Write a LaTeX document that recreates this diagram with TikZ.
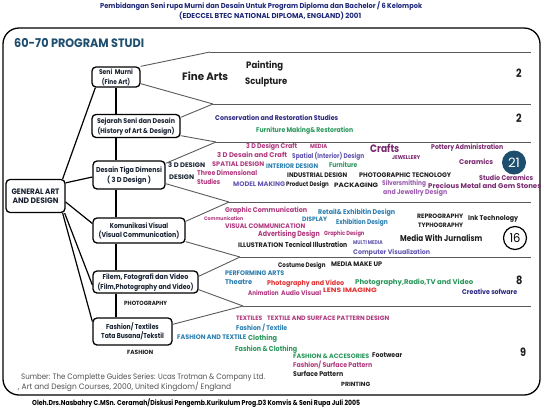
\documentclass[tikz,border=0pt]{standalone}
\usepackage{fontspec}
\setmainfont{Poppins}
\usepackage{graphicx}
\definecolor{navy}{RGB}{30,40,120}
\definecolor{tealhead}{RGB}{30,78,110}
\definecolor{boxtext}{RGB}{25,35,50}
\definecolor{mag}{RGB}{175,55,125}
\definecolor{purp}{RGB}{120,40,110}
\definecolor{lpurp}{RGB}{155,90,175}
\definecolor{blu}{RGB}{40,125,175}
\definecolor{violet}{RGB}{95,85,175}
\definecolor{dblue}{RGB}{45,40,130}
\definecolor{grn}{RGB}{40,150,90}
\definecolor{redc}{RGB}{225,50,50}
\definecolor{blk}{RGB}{30,30,30}
\definecolor{graytext}{RGB}{80,80,80}
\definecolor{linegray}{RGB}{90,90,90}
\newsavebox\lblbox
\newdimen\lblw
% width, cap height, text
\newcommand\fitwh[3]{%
  \sbox\lblbox{\fontsize{10}{12}\selectfont #3}%
  \lblw=\wd\lblbox
  \pgfmathsetmacro\lsy{#2/7}%
  \pgfmathsetmacro\lnat{\lblw*\lsy}%
  \pgfmathsetmacro\lsx{\lsy*max(0.85,min(1.2,#1/\lnat))}%
  \scalebox{\lsx}[\lsy]{\raisebox{0pt}[7pt][0pt]{\usebox\lblbox}}}
% name, x, y, width, capheight, style, text
\newcommand\lbl[7]{\node[lbl,#6] (#1) at (#2,#3) {\fitwh{#4}{#5}{#7}};}
\tikzset{
  lbl/.style={anchor=west,inner sep=0pt,font=\bfseries},
  boxnode/.style={draw=black,line width=1.3pt,rounded corners=4pt,fill=white,
     inner sep=0pt,align=center,text=boxtext,font=\bfseries\fontsize{6}{9.5}\selectfont},
  fan/.style={draw=linegray,line width=0.9pt},
  sepline/.style={draw=linegray,line width=0.9pt},
  trunk/.style={draw=black,line width=1.2pt},
}
\begin{document}
\begin{tikzpicture}[x=1pt,y=-1pt]
\useasboundingbox (0,0) rectangle (544,408);
% title
\lbl{t1}{100}{5.5}{322}{5}{text=navy}{Pembidangan Seni rupa Murni dan Desain Untuk Program Diploma dan Bachelor / 6 Kelompok}
\lbl{t2}{179}{16}{182}{5}{text=navy}{(EDECCEL BTEC NATIONAL DIPLOMA, ENGLAND) 2001}
% frame
\draw[line width=1.3pt,rounded corners=16pt] (3,28) rectangle (540,395);
\lbl{head}{14}{43}{130}{8.5}{text=tealhead}{60-70 PROGRAM STUDI}
% boxes
\node[boxnode,minimum width=48pt,minimum height=20pt] (b1) at (116,77) {\fitwh{34}{4.8}{Seni\ \ Murni}\\\fitwh{28}{4.8}{(Fine Art)}};
\node[boxnode,minimum width=88pt,minimum height=23pt] (b2) at (136,126) {\fitwh{78}{4.8}{Sejarah Seni dan Desain}\\\fitwh{77}{4.8}{(History of Art \& Design)}};
\node[boxnode,minimum width=72pt,minimum height=28pt] (b3) at (129,175) {\fitwh{66}{5}{Desain Tiga Dimensi}\\\fitwh{44}{5}{( 3 D Design )}};
\node[boxnode,minimum width=59pt,minimum height=33pt] (b0) at (35.5,196) {\fitwh{48}{5.5}{GENERAL ART}\\\fitwh{46}{5.5}{AND DESIGN}};
\node[boxnode,minimum width=92pt,minimum height=25pt] (b4) at (139,230.5) {\fitwh{58}{5}{Komunikasi Visual}\\\fitwh{81}{5}{(Visual Communication)}};
\node[boxnode,minimum width=105pt,minimum height=22pt] (b5) at (145.5,282) {\fitwh{86}{5}{Filem, Fotografi dan Video}\\\fitwh{96}{5}{(Film,Photography and Video)}};
\node[boxnode,minimum width=79pt,minimum height=27pt] (b6) at (132.5,331.5) {\fitwh{50}{5}{Fashion/ Textiles}\\\fitwh{59}{5}{Tata Busana/Tekstil}};
% trunk
\draw[trunk] (b1.south) -- (b1.south |- b2.north);
\draw[trunk] (b1.south |- b2.south) -- (b1.south |- b3.north);
\draw[trunk] (b1.south |- b3.south) -- (b1.south |- b4.north);
\draw[trunk] (b1.south |- b4.south) -- (b1.south |- b5.north);
\draw[trunk] (b1.south |- b5.south) -- (b1.south |- b6.north);
% general links
\draw[trunk] ([xshift=-3pt]b0.north east) -- ([xshift=4pt]b1.south west);
\draw[trunk] ([yshift=-4pt]b0.north east) -- ([yshift=-2pt]b3.west);
\draw[trunk] ([yshift=-6pt]b0.east) -- ([yshift=7pt]b4.west);
\draw[trunk] ([xshift=-1pt]b0.south east) -- ([yshift=-3pt]b5.west);
\draw[trunk] ([xshift=-3pt]b0.south east) -- ([yshift=10pt]b6.west);
% separator points
\coordinate (p0) at (210,52);
\coordinate (p1) at (213,104);
\coordinate (p2) at (216,142);
\coordinate (p3) at (229,202);
\coordinate (p4) at (240,257);
\coordinate (p5) at (243,306);
\coordinate (rend) at (531,0);
\foreach \p in {p0,p1,p2,p3,p4,p5} \draw[sepline] (\p) -- (\p -| rend);
\draw[fan] (b1.north east) -- (p0);
\draw[fan] ([yshift=4pt]b1.south east) -- (p1);
\draw[fan] ([yshift=-3.5pt]b2.north east) -- (p1);
\draw[fan] ([yshift=2.5pt]b2.south east) -- (p2);
\draw[fan] ([yshift=-3pt]b3.north east) -- (p2);
\draw[fan] ([yshift=6pt]b3.south east) -- (p3);
\draw[fan] ([yshift=-4pt]b4.north east) -- (p3);
\draw[fan] ([yshift=2pt]b4.south east) -- (p4);
\draw[fan] ([yshift=-6pt]b5.north east) -- (p4);
\draw[fan] ([yshift=4pt]b5.south east) -- (p5);
\draw[fan] ([yshift=-7pt]b6.north east) -- (p5);
% section 1
\lbl{fa}{182}{77}{46}{7.5}{text=blk}{Fine Arts}
\lbl{pa}{246}{65}{37}{6.5}{text=blk}{Painting}
\lbl{sc}{245}{81}{42}{6.5}{text=blk}{Sculpture}
\lbl{n1}{516}{73}{5.5}{8}{text=blk}{2}
% section 2
\lbl{cs}{215}{118}{123}{4.8}{text=dblue}{Conservation and Restoration Studies}
\lbl{fm}{256}{130}{97}{4.8}{text=grn}{Furniture Making\& Restoration}
\lbl{n2}{516}{118}{5.5}{8}{text=blk}{2}
% section 3
\lbl{dc}{246}{146}{51}{4.8}{text=mag}{3 D Design Craft}
\lbl{md}{310}{146}{17}{4.2}{text=mag}{MEDIA}
\lbl{cr}{370}{149}{28}{7.5}{text=purp}{Crafts}
\lbl{po}{431}{147.5}{72}{4.8}{text=purp}{Pottery Administration}
\lbl{dd}{217}{155}{70}{4.8}{text=mag}{3 D Desain and Craft}
\lbl{si}{292}{156.5}{72}{4.8}{text=violet}{Spatial (Interior) Design}
\lbl{jw}{392}{158}{28}{3.8}{text=purp}{JEWELLERY}
\lbl{ce}{459}{162}{34}{4.8}{text=purp}{Ceramics}
\lbl{sd}{212}{164.5}{52}{4.6}{text=mag}{SPATIAL DESIGN}
\lbl{idg}{266}{166}{52}{4.6}{text=blu}{INTERIOR DESIGN}
\lbl{fu}{329}{165.5}{28}{4.8}{text=grn}{Furniture}
\lbl{td}{168}{165}{37}{4.6}{text=boxtext}{3 D DESIGN}
\lbl{dg}{169}{177}{25}{4.6}{text=boxtext}{DESIGN}
\lbl{thd}{197}{173}{60}{4.8}{text=mag}{Three Dimensional}
\lbl{st}{197}{182}{23}{4.8}{text=mag}{Studies}
\lbl{mm}{233}{184.5}{52}{4.6}{text=violet}{MODEL MAKING}
\lbl{ind}{287}{175}{60}{4.6}{text=blk}{INDUSTRIAL DESIGN}
\lbl{pt}{359}{175}{92}{4.6}{text=blk}{PHOTOGRAPHIC TECNOLOGY}
\lbl{stc}{479}{178}{54}{4.8}{text=purp}{Studio Ceramics}
\lbl{pd}{286}{184.5}{35}{4.5}{text=blk}{Product Design}
\lbl{pk}{334}{185}{44}{4.4}{text=blk}{PACKAGING}
\lbl{sv}{382}{183}{39}{4.8}{text=lpurp}{Silversmithing}
\lbl{jd}{383}{192}{64}{4.8}{text=lpurp}{and Jewellry Design}
\lbl{pm}{428}{186}{113}{4.8}{text=purp}{Precious Metal and Gem Stones}
\node[circle,fill=tealhead,minimum size=24pt,inner sep=0pt] (c21) at (514,162.5) {\color{white}\fitwh{12}{9}{21}};
% section 4
\lbl{gc}{225}{210}{82}{4.8}{text=mag}{Graphic Communication}
\lbl{re}{318}{212}{77}{4.8}{text=blu}{Retail\& Exhibitin Design}
\lbl{cm}{204}{219}{39}{3.5}{text=mag}{Communication}
\lbl{dp}{302}{219}{25}{4.4}{text=blu}{DISPLAY}
\lbl{ed}{336}{222}{51}{4.8}{text=blu}{Exhibition Design}
\lbl{rp}{417}{216}{46}{4.4}{text=blk}{REPROGRAPHY}
\lbl{it}{468}{218}{50}{4.8}{text=blk}{Ink Technology}
\lbl{ty}{418}{225}{45}{4.4}{text=blk}{TYPHOGRAPHY}
\lbl{vc}{225}{226}{80}{4.6}{text=mag}{VISUAL COMMUNICATION}
\lbl{ad}{258}{234}{59}{5.2}{text=mag}{Advertising Design}
\lbl{gd}{324}{233.5}{40}{4.2}{text=mag}{Graphic Design}
\lbl{mj}{400}{238}{79}{6}{text=blk}{Media With Jurnalism}
\node[circle,draw=black,line width=1.2pt,fill=white,minimum size=23pt,inner sep=0pt] (c16) at (515,238) {\fitwh{11}{8.5}{16}};
\lbl{il}{238}{245}{45}{4.6}{text=blk}{ILLUSTRATION}
\lbl{ti}{285}{245}{56}{5}{text=blk}{Tecnical Illustration}
\lbl{mu}{353}{243}{27}{3.8}{text=violet}{MULTI MEDIA}
\lbl{cv}{353}{252}{77}{4.6}{text=violet}{Computer Visualization}
% section 5
\lbl{cd}{278}{265}{45}{4.6}{text=blk}{Costume Design}
\lbl{mk}{331}{264.5}{51}{4.6}{text=blk}{MEDIA MAKE UP}
\lbl{pf}{225}{273}{59}{4.6}{text=blu}{PERFORMING ARTS}
\lbl{th}{225}{282}{27}{4.8}{text=blu}{Theatre}
\lbl{pv}{267}{283}{77}{4.8}{text=redc}{Photography and Video}
\lbl{pr}{355}{282}{118}{4.8}{text=grn}{Photography,Radio,TV and Video}
\lbl{n8}{516}{280}{5.5}{8}{text=blk}{8}
\lbl{an}{248}{293.5}{29}{4.6}{text=mag}{Animation}
\lbl{av}{281}{293.5}{40}{4.6}{text=mag}{Audio Visual}
\lbl{li}{323}{290.5}{54}{4.4}{text=redc}{LENS IMAGING}
\lbl{cf}{462}{292}{55}{4.8}{text=dblue}{Creative sofware}
% section 6
\lbl{ph}{124}{303}{43}{4.2}{text=blk}{PHOTOGRAPHY}
\lbl{tx}{236}{318}{26}{4.4}{text=mag}{TEXTILES}
\lbl{ts}{267}{318}{122}{4.4}{text=mag}{TEXTILE AND SURFACE PATTERN DESIGN}
\lbl{ft}{236}{328.5}{51}{4.8}{text=blu}{Fashion / Textile}
\lbl{fat}{177}{337}{69}{4.6}{text=blu}{FASHION AND TEXTILE}
\lbl{cl}{248}{338}{29}{5}{text=grn}{Clothing}
\lbl{fc}{235}{349}{62}{5}{text=grn}{Fashion \& Clothing}
\lbl{fs}{127}{352}{26}{4.2}{text=blk}{FASHION}
\lbl{fac}{293}{356}{76}{4.4}{text=grn}{FASHION \& ACCESORIES}
\lbl{fw}{372}{355.5}{30}{4.8}{text=blk}{Footwear}
\lbl{fsp}{293}{365}{79}{4.8}{text=mag}{Fashion/ Surface Pattern}
\lbl{sp}{293}{374}{50}{4.8}{text=blk}{Surface Pattern}
\lbl{prn}{341}{384}{29}{4.2}{text=blk}{PRINTING}
\lbl{n9}{520}{352}{5.5}{8}{text=blk}{9}
% source
\lbl{src1}{21}{377}{244}{5.5}{font=\mdseries,text=graytext}{Sumber: The Complette Guides Series: Ucas Trotman \& Company Ltd.}
\lbl{src2}{18}{387}{213}{5.5}{font=\mdseries,text=graytext}{, Art and Design Courses, 2000, United Kingdom/ England}
\lbl{oleh}{32}{403}{328}{5}{text=black}{Oleh.Drs.Nasbahry C.MSn. Ceramah/Diskusi Pengemb.Kurikulum Prog.D3 Komvis \& Seni Rupa Juli 2005}
\end{tikzpicture}
\end{document}
